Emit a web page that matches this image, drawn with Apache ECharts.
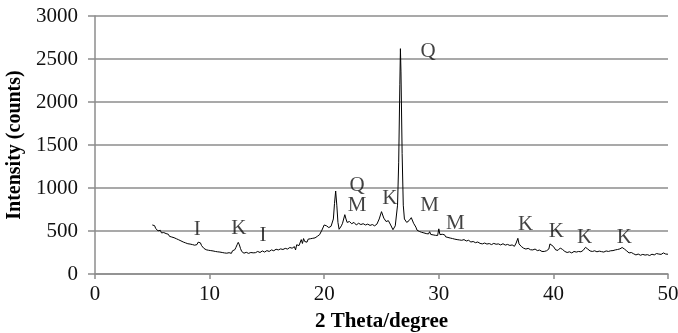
<!DOCTYPE html>
<html>
<head>
<meta charset="utf-8">
<script src="https://cdn.jsdelivr.net/npm/echarts@6/dist/echarts.min.js"></script>
<style>html,body{margin:0;padding:0;background:#fff}#c{width:678px;height:333px}</style>
</head>
<body>
<div id="c"></div>
<script>
// 2-theta (degree) positions
var theta = [5.0,5.1,5.2,5.3,5.4,5.5,5.6,5.7,5.8,5.9,6.0,6.1,6.2,6.3,6.4,6.5,6.6,6.7,6.8,6.9,7.0,7.1,7.2,7.3,7.4,7.5,7.6,7.7,7.8,7.9,8.0,8.1,8.2,8.3,8.4,8.5,8.6,8.7,8.8,8.9,9.0,9.1,9.2,9.3,9.4,9.5,9.6,9.7,9.8,9.9,10.0,10.1,10.2,10.3,10.4,10.5,10.6,10.7,10.8,10.9,11.0,11.1,11.2,11.3,11.4,11.5,11.6,11.7,11.8,11.9,12.0,12.1,12.2,12.3,12.4,12.5,12.6,12.7,12.8,12.9,13.0,13.1,13.2,13.3,13.4,13.5,13.6,13.7,13.8,13.9,14.0,14.2,14.4,14.6,14.8,15.0,15.2,15.4,15.6,15.8,16.0,16.2,16.4,16.6,16.8,17.0,17.2,17.4,17.5,17.6,17.8,18.0,18.1,18.2,18.3,18.4,18.5,18.6,18.7,18.8,18.9,19.0,19.2,19.4,19.6,19.8,20.0,20.2,20.4,20.6,20.8,20.9,21.0,21.1,21.2,21.3,21.4,21.5,21.6,21.8,21.9,22.0,22.2,22.4,22.6,22.8,23.0,23.2,23.4,23.6,23.8,24.0,24.2,24.4,24.6,24.8,25.0,25.2,25.4,25.6,25.8,26.0,26.2,26.4,26.5,26.6,26.65,26.7,26.8,26.9,27.0,27.2,27.4,27.6,27.8,28.0,28.1,28.2,28.3,28.4,28.5,28.6,28.7,28.8,28.9,29.0,29.1,29.2,29.3,29.4,29.5,29.6,29.7,29.8,29.9,30.0,30.1,30.2,30.3,30.4,30.5,30.6,30.7,30.8,30.9,31.0,31.1,31.2,31.3,31.4,31.5,31.6,31.7,31.8,31.9,32.0,32.2,32.4,32.6,32.8,33.0,33.2,33.4,33.6,33.8,34.0,34.2,34.4,34.6,34.8,35.0,35.2,35.4,35.6,35.8,36.0,36.2,36.4,36.6,36.75,36.9,37.0,37.2,37.4,37.6,37.8,38.0,38.2,38.4,38.6,38.8,39.0,39.2,39.4,39.6,39.7,39.8,40.0,40.2,40.4,40.5,40.6,40.8,41.0,41.2,41.4,41.6,41.8,42.0,42.2,42.4,42.6,42.7,42.8,43.0,43.2,43.4,43.6,43.8,44.0,44.2,44.4,44.6,44.8,45.0,45.2,45.4,45.6,45.8,45.9,46.0,46.2,46.4,46.6,46.8,47.0,47.2,47.4,47.6,47.8,48.0,48.2,48.4,48.6,48.8,49.0,49.2,49.4,49.6,49.8,49.9,50.0];
// intensity (counts)
var counts = [570,548,562,528,545,502,498,508,478,472,482,460,470,452,462,438,455,430,442,422,432,410,420,398,408,385,395,372,382,362,370,352,375,348,358,342,352,335,350,342,370,385,362,330,308,298,305,282,292,276,290,272,285,268,280,262,275,258,270,255,262,250,268,245,258,242,262,248,256,240,270,262,282,310,340,368,338,295,262,240,242,230,252,235,240,228,250,236,246,232,248,262,250,268,255,272,262,280,270,288,280,292,285,298,290,308,300,318,280,340,330,400,355,412,378,398,370,405,385,410,390,415,420,438,458,510,570,560,540,555,640,820,965,800,600,520,505,560,590,690,640,600,610,585,600,570,590,575,585,570,580,565,575,560,580,640,725,650,610,620,570,515,560,800,1300,2200,2620,2350,1400,800,640,600,620,655,590,545,510,528,495,512,485,505,478,498,470,488,466,492,460,480,455,478,450,470,448,525,458,448,462,440,456,432,448,425,440,418,432,412,428,405,420,400,415,396,408,392,400,384,392,372,378,364,372,356,350,360,348,354,342,356,346,350,338,352,336,344,332,338,322,360,415,350,320,300,290,298,282,280,290,272,278,262,262,270,290,350,365,320,280,275,290,302,285,262,250,258,245,262,255,262,258,275,295,310,290,268,262,270,258,266,260,255,268,262,270,272,280,285,292,300,308,290,268,245,250,235,222,232,218,228,220,225,215,230,222,238,232,228,245,232,240,230,265];
// peak annotations
var peakLabels = ["I","K","I","Q","M","K","Q","M","M","K","K","K","K"];
var peakTheta  = [8.92,12.55,14.65,22.87,22.87,25.72,29.06,29.2,31.45,37.58,40.25,42.72,46.2];
var peakCounts = [523,531,453,1035,802,880,2590,802,590,581,492,422,422];
// axis ticks
var xTicks = {min:0, max:50, interval:10};
var yTicks = {min:0, max:3000, interval:500};

var lineData = theta.map(function(t,i){return [t, counts[i]];});
var labelData = peakLabels.map(function(l,i){return {value:[peakTheta[i], peakCounts[i]], name:l};});

var FONT = '"Liberation Serif","Times New Roman",serif';
var chart = echarts.init(document.getElementById('c'), null, {renderer:'canvas'});
chart.setOption({
  animation:false,
  backgroundColor:'#ffffff',
  grid:{left:95, right:10, top:16, bottom:59, containLabel:false, outerBoundsMode:'none'},
  xAxis:{
    type:'value', min:xTicks.min, max:xTicks.max, interval:xTicks.interval,
    name:'2 Theta/degree', nameLocation:'middle', nameGap:37,
    nameTextStyle:{fontFamily:FONT, fontWeight:'bold', fontSize:21, color:'#000'},
    axisLine:{show:true, lineStyle:{color:'#8c8c8c', width:1.5}},
    axisTick:{show:true, inside:false, length:5, lineStyle:{color:'#8c8c8c', width:1.5}},
    axisLabel:{fontFamily:FONT, fontSize:21, color:'#111', margin:10,
               formatter:function(v){return String(v);}},
    splitLine:{show:false}
  },
  yAxis:{
    type:'value', min:yTicks.min, max:yTicks.max, interval:yTicks.interval,
    name:'Intensity (counts)', nameLocation:'middle', nameGap:63, nameRotate:90,
    nameTextStyle:{fontFamily:FONT, fontWeight:'bold', fontSize:20, color:'#000'},
    axisLine:{show:true, lineStyle:{color:'#8c8c8c', width:1.5}},
    axisTick:{show:true, inside:false, length:7, lineStyle:{color:'#8c8c8c', width:1.5}},
    axisLabel:{fontFamily:FONT, fontSize:21, color:'#111', margin:17,
               formatter:function(v){return String(v);}},
    splitLine:{show:true, lineStyle:{color:'#8c8c8c', width:1.5}}
  },
  series:[
    {type:'line', data:lineData, showSymbol:false, symbol:'none',
     lineStyle:{color:'#000', width:1}, z:3},
    {type:'scatter', data:labelData, symbolSize:0, z:4,
     label:{show:true, position:'inside', formatter:function(p){return p.name;},
            fontFamily:FONT, fontSize:21, color:'#111', align:'center', verticalAlign:'middle'}}
  ]
});
</script>
</body>
</html>
